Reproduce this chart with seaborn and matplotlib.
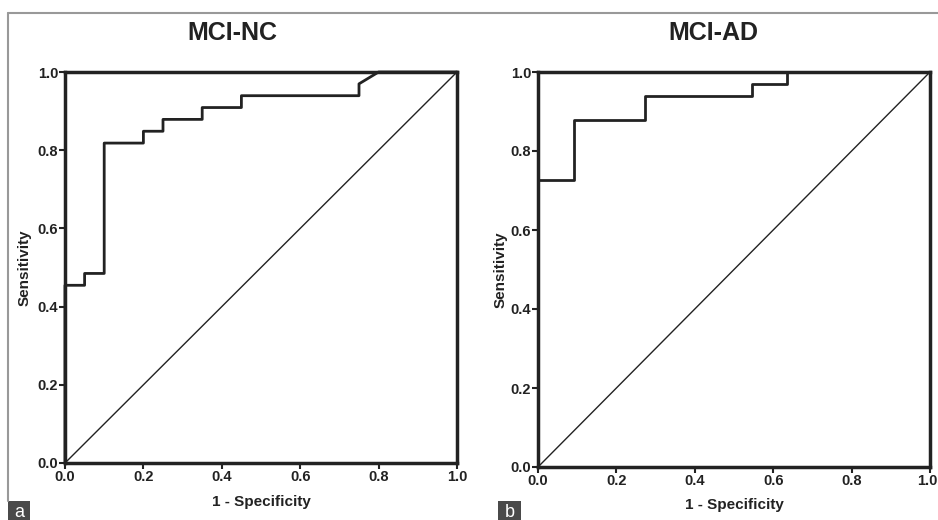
import matplotlib
matplotlib.use("Agg")
import matplotlib.pyplot as plt
import matplotlib.transforms as mtransforms
import seaborn as sns
import pandas as pd
from matplotlib.lines import Line2D
from matplotlib.patches import Rectangle

# ROC curve vertices (1 - specificity, sensitivity)
nc_fpr = [0.0, 0.0, 0.05, 0.05, 0.10, 0.10, 0.20, 0.20, 0.25, 0.25, 0.35, 0.35, 0.45, 0.45, 0.75, 0.75, 0.80, 1.0]
nc_tpr = [0.0, 0.4545, 0.4545, 0.4848, 0.4848, 0.8182, 0.8182, 0.8485, 0.8485, 0.8788, 0.8788, 0.9091, 0.9091, 0.9394, 0.9394, 0.9697, 1.0, 1.0]

ad_fpr = [0.0, 0.0, 0.0909, 0.0909, 0.2727, 0.2727, 0.5455, 0.5455, 0.6364, 0.6364, 1.0]
ad_tpr = [0.0, 0.7273, 0.7273, 0.8788, 0.8788, 0.9394, 0.9394, 0.9697, 0.9697, 1.0, 1.0]

ref_x = [0.0, 1.0]
ref_y = [0.0, 1.0]

titles = ["MCI-NC", "MCI-AD"]
panel_letters = ["a", "b"]
ticks = [0.0, 0.2, 0.4, 0.6, 0.8, 1.0]
tick_labels = ["0.0", "0.2", "0.4", "0.6", "0.8", "1.0"]

sns.set_theme(style="white")
plt.rcParams['font.family'] = ['Liberation Sans', 'DejaVu Sans']

fig = plt.figure(figsize=(9.38, 5.2), dpi=100)
W, H = 938, 520

def fx(px):
    return px / W

def fy(py):
    return 1 - py / H

axes_px = [(65, 72, 457, 463), (538, 72, 930, 467)]
title_px = [(232, 33), (713, 33)]
ylab_px = [25, 501]
xlab_py = [502, 505]
box_px = [(8, 501, 30), (498, 501, 521)]

data = [(nc_fpr, nc_tpr), (ad_fpr, ad_tpr)]
dark = "#222222"

for i in range(2):
    x0, y0, x1, y1 = axes_px[i]
    ax = fig.add_axes([fx(x0), fy(y1), fx(x1) - fx(x0), fy(y0) - fy(y1)])
    fpr, tpr = data[i]
    df = pd.DataFrame({"fpr": fpr, "tpr": tpr})
    sns.lineplot(data=df, x="fpr", y="tpr", sort=False, estimator=None,
                 color=dark, linewidth=2.0, ax=ax)
    dref = pd.DataFrame({"x": ref_x, "y": ref_y})
    sns.lineplot(data=dref, x="x", y="y", sort=False, estimator=None,
                 color=dark, linewidth=1.0, ax=ax)
    ax.set_xlim(0, 1)
    ax.set_ylim(0, 1)
    ax.set_xticks(ticks)
    ax.set_yticks(ticks)
    ax.set_xticklabels(tick_labels, fontsize=10.5, fontweight="bold", color=dark)
    ax.set_yticklabels(tick_labels, fontsize=10.5, fontweight="bold", color=dark)
    ax.tick_params(axis="both", direction="out", length=4, width=1.5, color=dark,
                   pad=1, bottom=True, left=True)
    for s in ax.spines.values():
        s.set_visible(True)
        s.set_linewidth(2.5)
        s.set_color(dark)
    ax.set_xlabel("1 - Specificity", fontsize=11, fontweight="bold", color=dark)
    ax.set_ylabel("Sensitivity", fontsize=11, fontweight="bold", color=dark)
    ax.xaxis.set_label_coords(0.5, (y1 - xlab_py[i]) / (y1 - y0))
    ax.xaxis.label.set_va("center")
    ax.yaxis.set_label_coords((ylab_px[i] - x0) / (x1 - x0), 0.5)
    ax.yaxis.label.set_va("center")
    ax.set_facecolor("white")
    for ln in ax.lines:
        ln.set_clip_on(False)

    if i == 1:
        last = ax.get_xticklabels()[-1]
        last.set_ha("right")
        last.set_transform(last.get_transform() +
                           mtransforms.ScaledTranslation(7 / 100, 0, fig.dpi_scale_trans))

    tx, ty = title_px[i]
    fig.text(fx(tx), fy(ty), titles[i], fontsize=18, fontweight="bold",
             color=dark, ha="center", va="center")

    bx0, by0, bx1 = box_px[i]
    fig.add_artist(Rectangle((fx(bx0), 0), fx(bx1) - fx(bx0), fy(by0),
                             transform=fig.transFigure, facecolor="#4a4a4a",
                             edgecolor="none"))
    fig.text((fx(bx0) + fx(bx1)) / 2, fy(by0) / 2, panel_letters[i],
             fontsize=13, color="white", ha="center", va="center_baseline")

# figure frame lines
fig.add_artist(Line2D([fx(8), 1.0], [fy(13), fy(13)], transform=fig.transFigure,
                      color="#999999", linewidth=1.5))
fig.add_artist(Line2D([fx(8), fx(8)], [fy(13), fy(501)], transform=fig.transFigure,
                      color="#999999", linewidth=1.5))

fig.savefig("out.png", dpi=100, facecolor="white")
